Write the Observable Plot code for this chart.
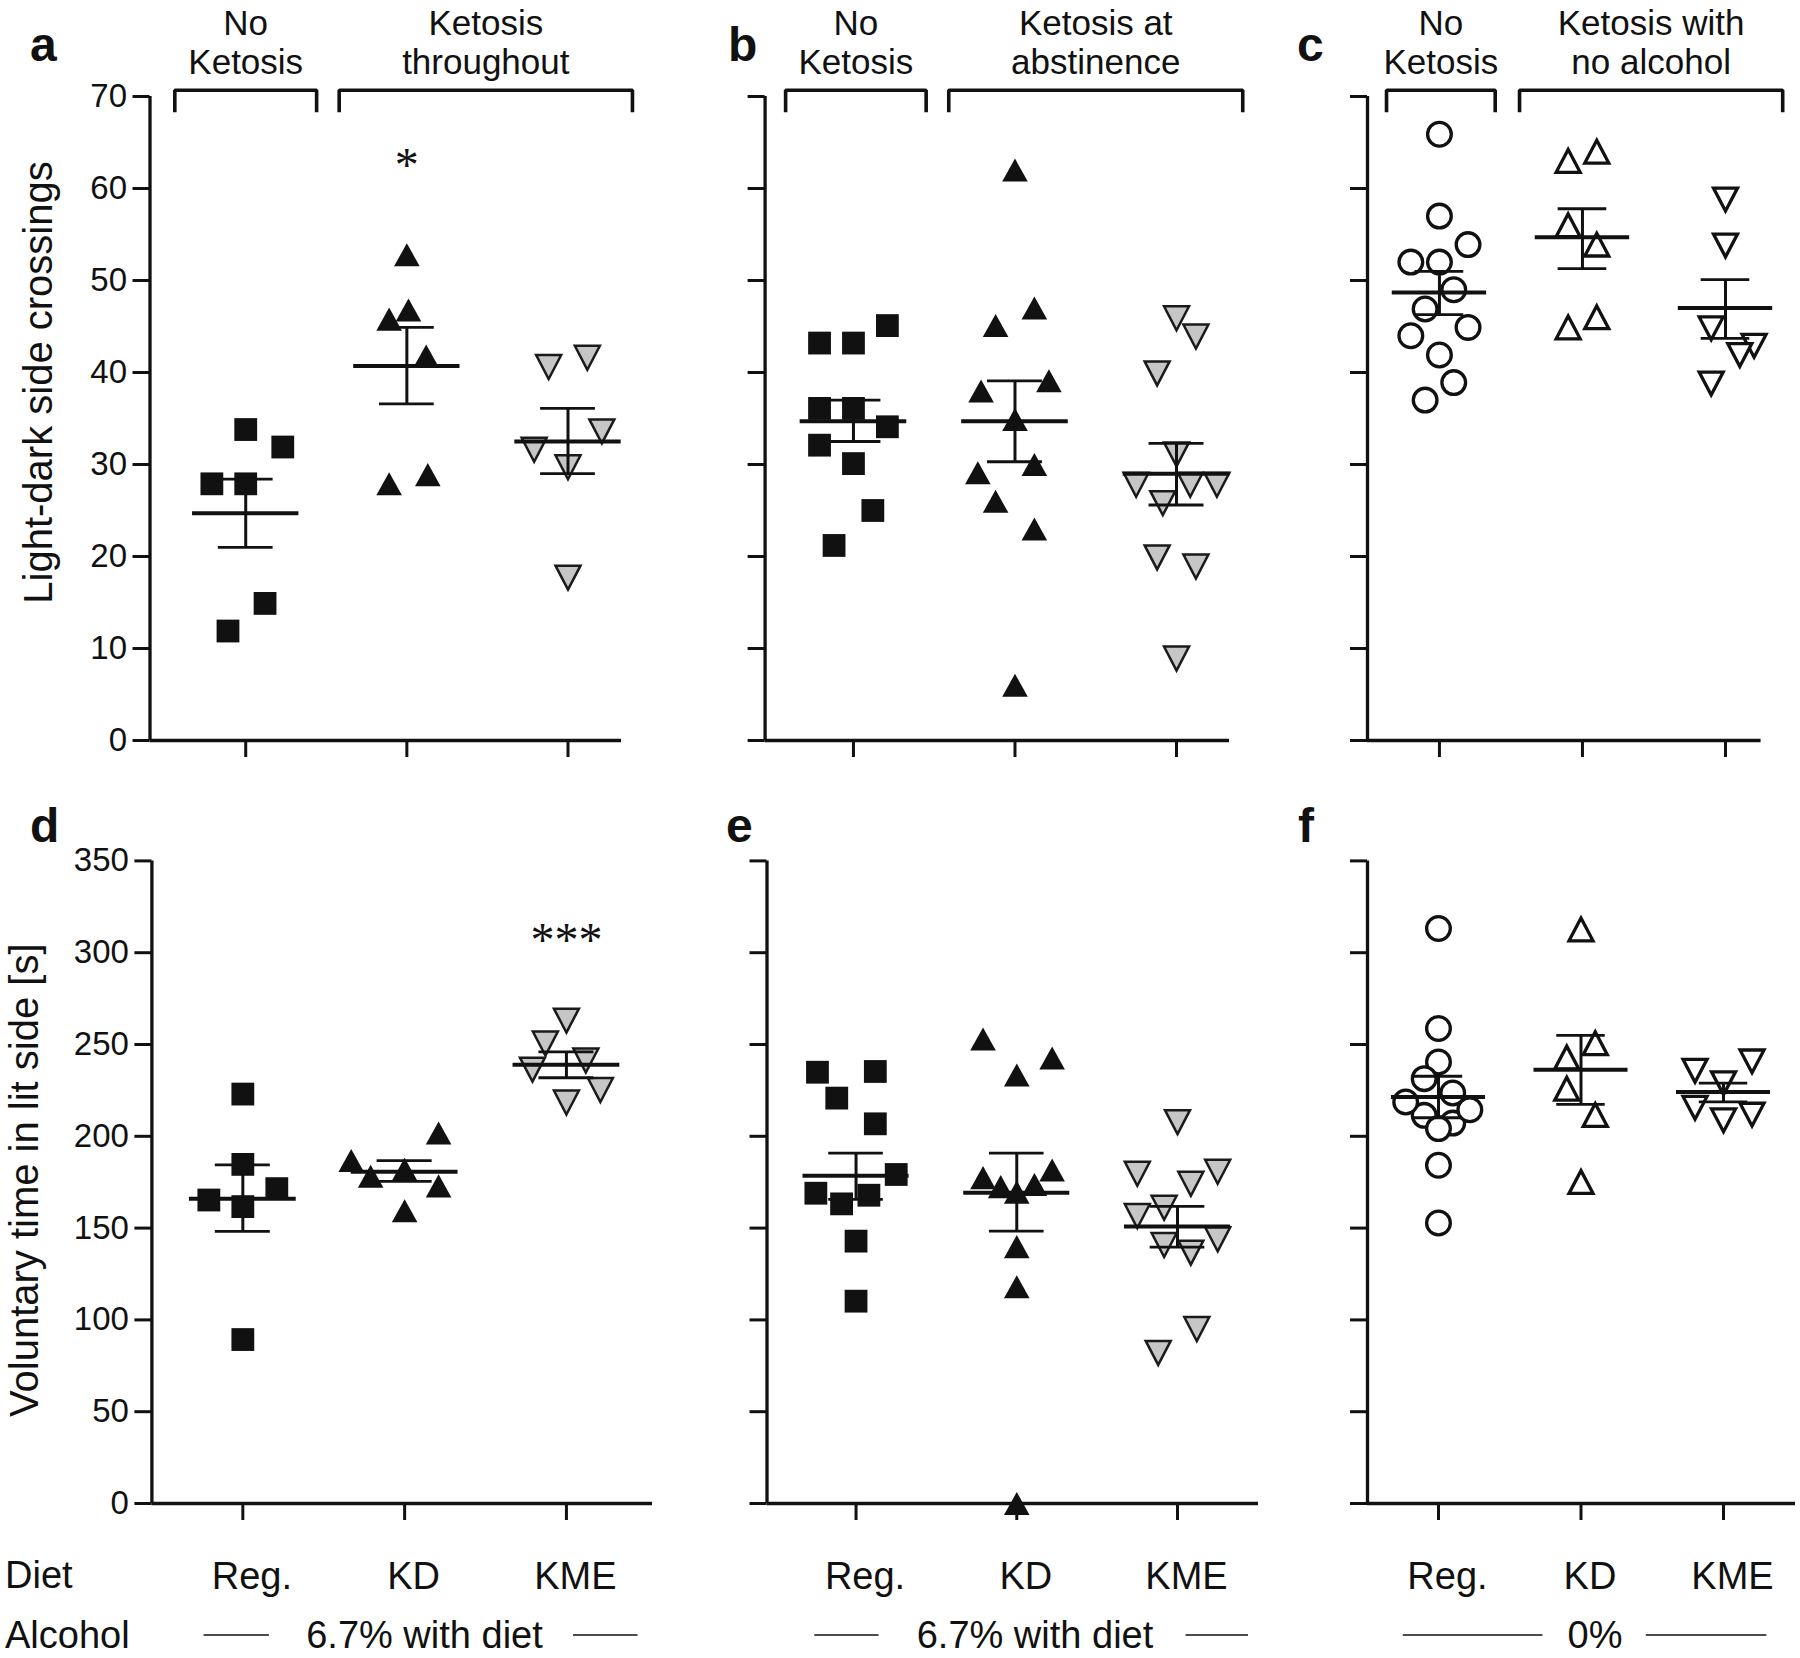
<!DOCTYPE html>
<html><head><meta charset="utf-8">
<script src="https://cdn.jsdelivr.net/npm/d3@7"></script>
<script src="https://cdn.jsdelivr.net/npm/@observablehq/plot@0.6"></script>
<style>
html,body{margin:0;padding:0;background:#fff;}
#fig{position:relative;width:1800px;height:1658px;overflow:hidden;background:#fff;}
.panel{position:absolute;}
</style></head><body><div id="fig"></div>
<script>
// ---------- categories & tick labels ----------
const diets = ["Reg.", "KD", "KME"];
const yTicksTop = [0, 10, 20, 30, 40, 50, 60, 70];
const yTicksBottom = [0, 50, 100, 150, 200, 250, 300, 350];
const yLabelTop = "Light-dark side crossings";
const yLabelBottom = "Voluntary time in lit side [s]";
const alcoholRow = ["6.7% with diet", "6.7% with diet", "0%"];
const headersA = ["No\nKetosis", "Ketosis\nthroughout"];
const headersB = ["No\nKetosis", "Ketosis at\nabstinence"];
const headersC = ["No\nKetosis", "Ketosis with\nno alcohol"];

// ---------- values (individual animals) and horizontal scatter offsets (in category units) ----------
// a: light-dark crossings, ketosis throughout
const aRegV = [33.8, 31.9, 27.9, 27.9, 14.9, 11.9];
const aRegJ = [0, 0.23, -0.21, 0, 0.12, -0.11];
const aKdV  = [52.8, 45.8, 46.8, 41.8, 27.9, 28.9];
const aKdJ  = [0, -0.11, 0.01, 0.12, -0.11, 0.13];
const aKmeV = [40.6, 41.6, 33.6, 31.6, 29.7, 17.7];
const aKmeJ = [-0.12, 0.12, 0.21, -0.21, 0, 0];
const aMean = [24.7, 40.7, 32.5];
const aSemLo = [21.0, 36.6, 29.0];
const aSemHi = [28.4, 44.9, 36.1];
// b: ketosis at abstinence
const bRegV = [43.2, 43.2, 45.1, 36.1, 36.1, 34.1, 32.1, 30.1, 25.0, 21.2];
const bRegJ = [-0.21, 0, 0.21, -0.21, 0, 0.21, -0.21, 0, 0.12, -0.12];
const bKdV  = [62.0, 47.0, 45.1, 38.0, 39.1, 34.9, 30.0, 29.1, 26.0, 23.0, 6.0];
const bKdJ  = [0, 0.12, -0.12, -0.21, 0.21, 0, 0.12, -0.23, -0.12, 0.12, 0];
const bKmeV = [45.9, 43.9, 39.9, 31.1, 27.8, 27.8, 27.8, 25.8, 19.9, 18.9, 8.9];
const bKmeJ = [0, 0.12, -0.12, 0, -0.25, 0.085, 0.25, -0.085, -0.12, 0.12, 0];
const bMean = [34.7, 34.7, 29.0];
const bSemLo = [32.5, 30.3, 25.6];
const bSemHi = [37.0, 39.1, 32.3];
// c: ketosis with no alcohol
const cRegV = [65.9, 57.0, 53.9, 52.0, 52.0, 49.0, 46.9, 44.9, 44.0, 41.9, 38.9, 37.0];
const cRegJ = [0, 0, 0.2, -0.2, 0, 0.1, -0.1, 0.2, -0.2, 0, 0.1, -0.1];
const cKdV  = [63.0, 64.0, 56.0, 53.9, 44.9, 46.0];
const cKdJ  = [-0.1, 0.1, -0.1, 0.1, -0.1, 0.1];
const cKmeV = [58.8, 53.8, 44.8, 42.9, 41.9, 38.8];
const cKmeJ = [0, 0, -0.1, 0.2, 0.1, -0.1];
const cMean = [48.7, 54.7, 47.0];
const cSemLo = [46.3, 51.3, 43.7];
const cSemHi = [51.0, 57.8, 50.1];
// d: time in lit side, ketosis throughout
const dRegV = [223.0, 184.7, 165.3, 161.7, 171.5, 89.3];
const dRegJ = [0, 0, -0.21, 0, 0.21, 0];
const dKdV  = [186.8, 178.2, 182.1, 201.8, 173.0, 159.5];
const dKdJ  = [-0.33, -0.21, 0, 0.21, 0.21, 0];
const dKmeV = [263.0, 250.5, 241.3, 236.3, 225.2, 218.4];
const dKmeJ = [0, -0.13, 0.12, -0.21, 0.21, 0];
const dMean = [166.0, 180.7, 239.0];
const dSemLo = [148.2, 175.5, 231.9];
const dSemHi = [184.4, 186.8, 246.0];
// e: ketosis at abstinence
const eRegV = [234.9, 235.3, 220.8, 206.8, 179.2, 169.0, 163.2, 167.9, 142.9, 110.2];
const eRegJ = [-0.24, 0.12, -0.12, 0.12, 0.25, -0.25, -0.09, 0.08, 0, 0];
const eKdV  = [253.0, 242.6, 233.4, 181.6, 177.5, 172.6, 173.8, 169.6, 139.9, 118.1, 0];
const eKdJ  = [-0.21, 0.22, 0, 0.22, -0.21, -0.1, 0.11, 0, 0, 0, 0];
const eKmeV = [207.7, 179.6, 180.7, 174.1, 161.1, 156.6, 143.9, 140.8, 136.6, 95.0, 82.0];
const eKmeJ = [0, -0.25, 0.25, 0.083, -0.083, -0.25, 0.25, -0.083, 0.083, 0.12, -0.12];
const eMean = [178.5, 169.2, 150.9];
const eSemLo = [165.6, 148.3, 139.6];
const eSemHi = [190.8, 190.8, 161.8];
// f: ketosis with no alcohol
const fRegV = [313.2, 258.7, 211.4, 207.2, 240.5, 231.4, 223.6, 218.7, 214.5, 204.2, 184.2, 152.8];
const fRegJ = [0, 0, -0.1, 0.1, 0, -0.1, 0.1, -0.23, 0.22, 0, 0, 0];
const fKdV  = [312.7, 250.7, 242.9, 225.9, 211.6, 175.1];
const fKdJ  = [0, 0.1, -0.1, -0.1, 0.1, 0];
const fKmeV = [235.7, 240.8, 228.9, 215.5, 208.7, 211.8];
const fKmeJ = [-0.2, 0.2, 0, -0.2, 0, 0.2];
const fMean = [221.4, 236.3, 224.1];
const fSemLo = [210.1, 217.4, 218.7];
const fSemHi = [232.7, 255.0, 229.0];
// significance marks
const aSignif = [{cat: 1, text: "*", y: 62.8}];
const dSignif = [{cat: 2, text: "***", y: 308}];

// ---------- helpers ----------
const FONT = '"Liberation Sans", Arial, Helvetica, sans-serif';
const INK = "#111";
function tri(dir, kh) {
  return {draw(ctx, size) {
    const w = Math.sqrt(size / Math.PI), h = w * kh;
    ctx.moveTo(0, -dir * h); ctx.lineTo(w, dir * h); ctx.lineTo(-w, dir * h); ctx.closePath();
  }};
}
const squareSym = {draw(ctx, size) {
  const s = Math.sqrt(size / Math.PI);
  ctx.moveTo(-s, -s); ctx.lineTo(s, -s); ctx.lineTo(s, s); ctx.lineTo(-s, s); ctx.closePath();
}};
const styles = {
  square:   {symbol: squareSym, r: 11.4, fill: INK, stroke: "none"},
  triFill:  {symbol: tri(1, 0.9), r: 12.8, fill: INK, stroke: "none"},
  triGray:  {symbol: tri(-1, 0.96), r: 12.5, fill: "#c6c6c6", stroke: "#1a1a1a", strokeWidth: 2.5, strokeLinejoin: "miter"},
  circOpen: {symbol: "circle", r: 11.85, fill: "#fff", stroke: INK, strokeWidth: 3.3},
  triUpOpen:{symbol: tri(1, 0.95), r: 12, fill: "#fff", stroke: INK, strokeWidth: 3.3, strokeLinejoin: "miter"},
  triDnOpen:{symbol: tri(-1, 0.95), r: 12, fill: "#fff", stroke: INK, strokeWidth: 3.3, strokeLinejoin: "miter"}
};
const pts = (cat, vals, jit) => vals.map((v, i) => ({cat, v, dx: jit[i]}));
const statsOf = (m, lo, hi) => m.map((mean, i) => ({cat: i, mean, lo: lo[i], hi: hi[i]}));

function makePanel(cfg) {
  const {xDom, yMax, yTicks, showYLabels, groups, stats} = cfg;
  const marks = [];
  // axes
  marks.push(Plot.ruleX([xDom[0]], {y1: 0, y2: yMax, strokeWidth: 3.3}));
  marks.push(Plot.ruleY([0], {strokeWidth: 3.3}));
  marks.push(Plot.axisY({ticks: yTicks, tickSize: 17, tickPadding: 6, strokeWidth: 3, label: null,
    tickFormat: showYLabels ? (d => String(d)) : (() => ""), fontSize: 33}));
  marks.push(Plot.axisX({ticks: [0, 1, 2], tickSize: 17, strokeWidth: 3, label: null, tickFormat: () => ""}));
  if (cfg.yLabel) {
    marks.push(Plot.text([cfg.yLabel], {frameAnchor: "left", rotate: -90, lineAnchor: "bottom",
      textAnchor: "middle", dx: cfg.yLabelDx, dy: cfg.yLabelDy, fontSize: cfg.yLabelSize}));
  }
  if (cfg.bottomLabels) {
    marks.push(Plot.text(diets, {x: (d, i) => i, frameAnchor: "bottom", dy: 85, dx: 9,
      lineAnchor: "bottom", fontSize: 38}));
  }
  // brackets + headers
  if (cfg.headers) {
    const br = cfg.brackets;
    const line = [];
    br.forEach((b, k) => {
      const x1 = b.from - b.padL, x2 = b.to + b.padR;
      line.push({g: k, x: x1, y: yMax - 2.4}, {g: k, x: x1, y: yMax}, {g: k, x: x2, y: yMax}, {g: k, x: x2, y: yMax - 2.4});
    });
    marks.push(Plot.line(line, {x: "x", y: "y", z: "g", strokeWidth: 3.6, dy: -6.3, strokeLinejoin: "miter", strokeLinecap: "butt"}));
    marks.push(Plot.text(br.map((b, k) => ({x: (b.from - b.padL + b.to + b.padR) / 2, t: cfg.headers[k]})),
      {x: "x", text: "t", frameAnchor: "top", lineAnchor: "bottom", dy: -23, fontSize: 35, lineHeight: 1.1}));
  }
  // points
  groups.forEach(g => {
    const s = styles[g.style];
    marks.push(Plot.dot(g.data, {x: d => d.cat + d.dx, y: "v", ...s}));
  });
  // mean and SEM
  marks.push(Plot.ruleX(stats, {x: "cat", y1: "lo", y2: "hi", strokeWidth: 3}));
  marks.push(Plot.ruleY(stats, {y: "hi", x1: d => d.cat - 0.17, x2: d => d.cat + 0.17, strokeWidth: 2.8}));
  marks.push(Plot.ruleY(stats, {y: "lo", x1: d => d.cat - 0.17, x2: d => d.cat + 0.17, strokeWidth: 2.8}));
  marks.push(Plot.ruleY(stats, {y: "mean", x1: d => d.cat - 0.33, x2: d => d.cat + 0.33, strokeWidth: 4}));
  if (cfg.signif) {
    marks.push(Plot.text(cfg.signif, {x: "cat", y: "y", text: "text", fontFamily: '"Liberation Serif", "Times New Roman", serif',
      fontSize: 48, lineAnchor: "middle", dy: 3, letterSpacing: "1px"}));
  }
  const svg = Plot.plot({
    width: cfg.width, height: cfg.height,
    marginLeft: cfg.mL, marginRight: cfg.mR, marginTop: cfg.mT, marginBottom: cfg.mB,
    x: {type: "linear", domain: xDom},
    y: {type: "linear", domain: [0, yMax]},
    style: {fontFamily: FONT, fontSize: "33px", color: INK, background: "none", overflow: "visible"},
    marks
  });
  const div = document.createElement("div");
  div.className = "panel";
  div.style.left = cfg.left + "px";
  div.style.top = cfg.top + "px";
  div.appendChild(svg);
  document.getElementById("fig").appendChild(div);
}

const topBase = {top: 0, height: 780, mT: 96, mB: 40, yMax: 70, yTicks: yTicksTop};
const botBase = {top: 780, height: 830, mT: 80.4, mB: 107, yMax: 350, yTicks: yTicksBottom, bottomLabels: true};

makePanel({...topBase, left: 0, width: 700, mL: 149.5, mR: 79, xDom: [-0.594, 2.332], showYLabels: true,
  yLabel: yLabelTop, yLabelDx: -98, yLabelDy: -36, yLabelSize: 40,
  headers: headersA, brackets: [{from: 0, to: 0, padL: 0.44, padR: 0.44}, {from: 1, to: 2, padL: 0.42, padR: 0.40}],
  groups: [{style: "square", data: pts(0, aRegV, aRegJ)}, {style: "triFill", data: pts(1, aKdV, aKdJ)}, {style: "triGray", data: pts(2, aKmeV, aKmeJ)}],
  stats: statsOf(aMean, aSemLo, aSemHi), signif: aSignif});
makePanel({...topBase, left: 700, width: 570, mL: 64.6, mR: 41, xDom: [-0.547, 2.328], showYLabels: false,
  headers: headersB, brackets: [{from: 0, to: 0, padL: 0.42, padR: 0.45}, {from: 1, to: 2, padL: 0.41, padR: 0.41}],
  groups: [{style: "square", data: pts(0, bRegV, bRegJ)}, {style: "triFill", data: pts(1, bKdV, bKdJ)}, {style: "triGray", data: pts(2, bKmeV, bKmeJ)}],
  stats: statsOf(bMean, bSemLo, bSemHi)});
makePanel({...topBase, left: 1270, width: 530, mL: 97, mR: 39.4, xDom: [-0.503, 2.249], showYLabels: false,
  headers: headersC, brackets: [{from: 0, to: 0, padL: 0.37, padR: 0.39}, {from: 1, to: 2, padL: 0.44, padR: 0.40}],
  groups: [{style: "circOpen", data: pts(0, cRegV, cRegJ)}, {style: "triUpOpen", data: pts(1, cKdV, cKdJ)}, {style: "triDnOpen", data: pts(2, cKmeV, cKmeJ)}],
  stats: statsOf(cMean, cSemLo, cSemHi)});
makePanel({...botBase, left: 0, width: 700, mL: 151.4, mR: 48, xDom: [-0.562, 2.532], showYLabels: true,
  yLabel: yLabelBottom, yLabelDx: -113.8, yLabelDy: -2, yLabelSize: 40,
  groups: [{style: "square", data: pts(0, dRegV, dRegJ)}, {style: "triFill", data: pts(1, dKdV, dKdJ)}, {style: "triGray", data: pts(2, dKmeV, dKmeJ)}],
  stats: statsOf(dMean, dSemLo, dSemHi), signif: dSignif});
makePanel({...botBase, left: 700, width: 570, mL: 66.5, mR: 12, xDom: [-0.554, 2.504], showYLabels: false,
  groups: [{style: "square", data: pts(0, eRegV, eRegJ)}, {style: "triFill", data: pts(1, eKdV, eKdJ)}, {style: "triGray", data: pts(2, eKmeV, eKmeJ)}],
  stats: statsOf(eMean, eSemLo, eSemHi)});
makePanel({...botBase, left: 1270, width: 530, mL: 97, mR: 5, xDom: [-0.498, 2.505], showYLabels: false,
  groups: [{style: "circOpen", data: pts(0, fRegV, fRegJ)}, {style: "triUpOpen", data: pts(1, fKdV, fKdJ)}, {style: "triDnOpen", data: pts(2, fKmeV, fKmeJ)}],
  stats: statsOf(fMean, fSemLo, fSemHi)});

// ---------- panel letters and Diet / Alcohol rows ----------
const ov = d3.select("#fig").append("svg").attr("width", 1800).attr("height", 1658)
  .style("position", "absolute").style("left", 0).style("top", 0).style("pointer-events", "none")
  .style("font-family", FONT).style("fill", INK);
const letters = [["a", 30, 61], ["b", 728, 61], ["c", 1297, 61], ["d", 30, 842], ["e", 726, 842], ["f", 1298, 842]];
letters.forEach(([t, x, y]) => ov.append("text").attr("x", x).attr("y", y).attr("font-size", 48).attr("font-weight", "bold").text(t));
ov.append("text").attr("x", 5).attr("y", 1588).attr("font-size", 38).text("Diet");
ov.append("text").attr("x", 5).attr("y", 1648).attr("font-size", 38).text("Alcohol");
const alc = [
  {cx: 424.5, l: [203.6, 268.9], r: [573, 637.5]},
  {cx: 1035, l: [814.3, 878.6], r: [1185.5, 1248]},
  {cx: 1595, l: [1402.8, 1542.5], r: [1645.8, 1766.4]}
];
alc.forEach((a, i) => {
  ov.append("text").attr("x", a.cx).attr("y", 1648).attr("font-size", 38).attr("text-anchor", "middle").text(alcoholRow[i]);
  [a.l, a.r].forEach(s => ov.append("line").attr("x1", s[0]).attr("x2", s[1]).attr("y1", 1635).attr("y2", 1635)
    .attr("stroke", INK).attr("stroke-width", 1.6));
});
</script></body></html>
